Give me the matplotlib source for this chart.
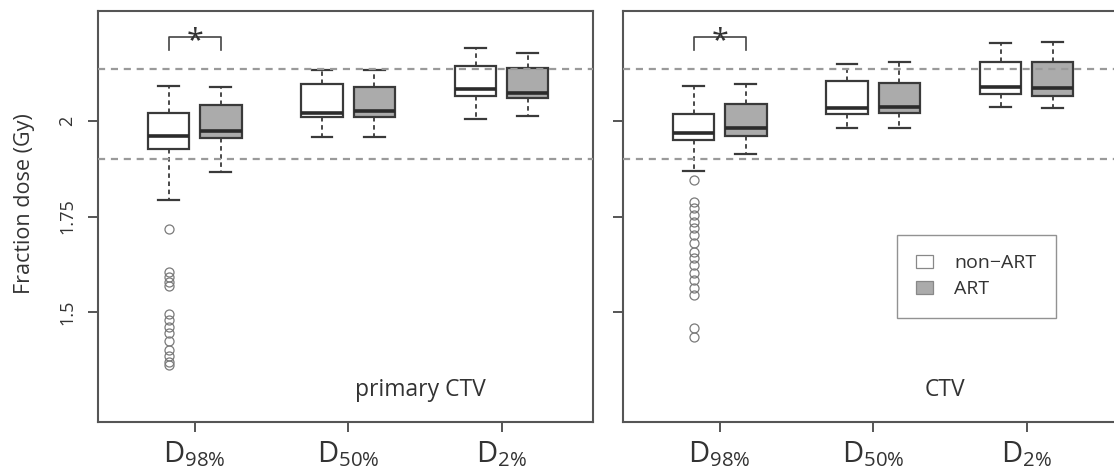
"""Fraction dose box plots for primary CTV and CTV, non-ART vs ART."""

import matplotlib

matplotlib.use("Agg")
import matplotlib.pyplot as plt
from matplotlib.patches import Patch

plt.rcParams["font.family"] = ["Open Sans", "DejaVu Sans"]
plt.rcParams["mathtext.fontset"] = "custom"
plt.rcParams["mathtext.rm"] = "Open Sans"

# ---- data --------------------------------------------------------------
metrics = ["98%", "50%", "2%"]
panel_names = ["primary CTV", "CTV"]
groups = ["non\u2212ART", "ART"]
y_ticks = [1.5, 1.75, 2.0]
y_tick_labels = ["1.5", "1.75", "2"]
ref_lines = [1.90, 2.136]

# each row: whislo, q1, median, q3, whishi  (one row per metric)
primary_non_art = [
    [1.793, 1.927, 1.961, 2.022, 2.092],
    [1.958, 2.011, 2.021, 2.097, 2.134],
    [2.005, 2.066, 2.084, 2.144, 2.191],
]
primary_art = [
    [1.866, 1.955, 1.974, 2.042, 2.089],
    [1.958, 2.011, 2.026, 2.089, 2.134],
    [2.013, 2.060, 2.073, 2.139, 2.178],
]
ctv_non_art = [
    [1.869, 1.950, 1.969, 2.018, 2.092],
    [1.982, 2.018, 2.034, 2.105, 2.149],
    [2.037, 2.071, 2.089, 2.154, 2.204],
]
ctv_art = [
    [1.914, 1.961, 1.982, 2.045, 2.097],
    [1.982, 2.021, 2.037, 2.099, 2.154],
    [2.034, 2.066, 2.086, 2.154, 2.207],
]

# outliers of the non-ART D98% boxes
primary_fliers = [1.717, 1.605, 1.592, 1.578, 1.568, 1.495, 1.480, 1.462,
                  1.445, 1.425, 1.400, 1.385, 1.370, 1.360]
ctv_fliers = [1.845, 1.788, 1.772, 1.754, 1.736, 1.720, 1.702, 1.681,
              1.657, 1.641, 1.623, 1.602, 1.584, 1.563, 1.545, 1.458, 1.435]

# significance marker: metric index with a star
sig_metric = 0

# ---- styling ------------------------------------------------------------
FILLS = ["white", "#ababab"]
EDGE = "#3a3a3a"
OFFSET = 0.17
BOX_W = 0.27


def make_stats(rows, fliers_first):
    stats = []
    for i, (lo, q1, med, q3, hi) in enumerate(rows):
        stats.append(
            dict(whislo=lo, q1=q1, med=med, q3=q3, whishi=hi,
                 fliers=fliers_first if i == 0 else [])
        )
    return stats


def draw_panel(ax, non_art, art, fliers, name, show_ylabels):
    pos = [1, 2, 3]
    for k, (rows, fl) in enumerate([(non_art, fliers), (art, [])]):
        shift = -OFFSET if k == 0 else OFFSET
        ax.bxp(
            make_stats(rows, fl),
            positions=[p + shift for p in pos],
            widths=BOX_W,
            capwidths=BOX_W * 0.5,
            patch_artist=True,
            boxprops=dict(facecolor=FILLS[k], edgecolor=EDGE, linewidth=1.6),
            medianprops=dict(color="#2b2b2b", linewidth=2.6,
                             solid_capstyle="butt"),
            whiskerprops=dict(color=EDGE, linewidth=1.3,
                              linestyle=(0, (2.5, 2))),
            capprops=dict(color=EDGE, linewidth=1.6),
            flierprops=dict(marker="o", markerfacecolor="none",
                            markeredgecolor="#7a7a7a", markersize=6.5,
                            markeredgewidth=0.9),
        )

    for yv in ref_lines:
        ax.axhline(yv, color="#9a9a9a", linewidth=1.6,
                   linestyle=(0, (3.2, 2.6)), zorder=5)

    # significance bracket
    x0 = pos[sig_metric] - OFFSET
    x1 = pos[sig_metric] + OFFSET
    ax.plot([x0, x0, x1, x1], [2.186, 2.22, 2.22, 2.186],
            color="#444444", linewidth=1.2)
    ax.text((x0 + x1) / 2, 2.188, "*", ha="center", va="baseline",
            fontsize=22, color="#333333")

    ax.text(2.47, 1.296, name, ha="center", va="center", fontsize=16.5,
            color="#333333")

    ax.set_xlim(0.37, 3.595)
    ax.set_ylim(1.212, 2.288)
    ax.set_xticks(pos)
    ax.set_xticklabels([r"D$_{\mathregular{%s}}$" % m.replace("%", r"\%")
                        for m in metrics], fontsize=21, color="#333333")
    ax.set_yticks(y_ticks)
    if show_ylabels:
        ax.set_yticklabels(y_tick_labels, rotation=90, va="center",
                           fontsize=13, color="#333333")
    else:
        ax.set_yticklabels([])
    ax.tick_params(axis="both", direction="out", length=7.5, width=1.4,
                   color="#555555")
    ax.tick_params(axis="y", pad=8)
    ax.tick_params(axis="x", pad=5)
    for spine in ax.spines.values():
        spine.set_color("#555555")
        spine.set_linewidth(1.5)


fig = plt.figure(figsize=(11.14, 4.75), dpi=100)
ax_left = fig.add_axes([98 / 1114, 53 / 475, 495 / 1114, 411 / 475])
ax_right = fig.add_axes([623 / 1114, 53 / 475, 495 / 1114, 411 / 475])

draw_panel(ax_left, primary_non_art, primary_art, primary_fliers,
           panel_names[0], True)
draw_panel(ax_right, ctv_non_art, ctv_art, ctv_fliers, panel_names[1], False)

fig.text(25 / 1114, 1 - 204 / 475, "Fraction dose (Gy)", rotation=90,
         ha="center", va="center", fontsize=15.5, color="#333333")

handles = [Patch(facecolor=FILLS[i], edgecolor="#888888", linewidth=0.9)
           for i in range(2)]
leg = ax_right.legend(handles, groups, loc="upper left",
                      bbox_to_anchor=(0.553, 0.455), fontsize=14,
                      frameon=True, fancybox=False, handlelength=0.85,
                      handleheight=0.7, handletextpad=1.1, borderpad=1.0,
                      labelspacing=0.4, borderaxespad=0)
leg.get_frame().set_edgecolor("#777777")
leg.get_frame().set_linewidth(1.0)
for t in leg.get_texts():
    t.set_color("#333333")

fig.savefig("out.png", dpi=100)
